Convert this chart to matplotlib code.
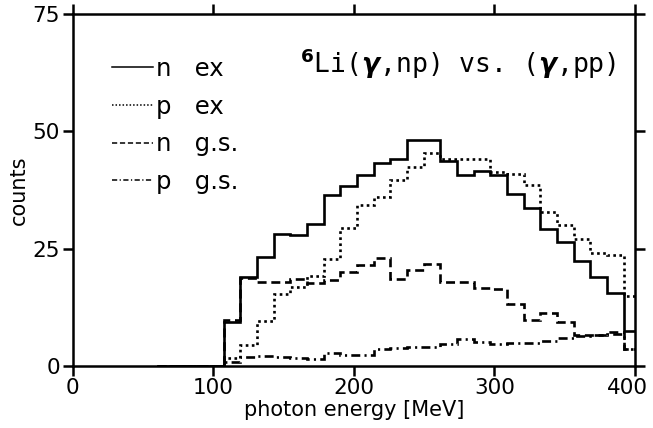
import numpy as np
import matplotlib.pyplot as plt
from matplotlib.lines import Line2D
from matplotlib.transforms import ScaledTranslation

plt.rcParams['font.family'] = ['DejaVu Sans']
plt.rcParams['mathtext.fontset'] = 'custom'
plt.rcParams['mathtext.rm'] = 'DejaVu Sans'
plt.rcParams['mathtext.it'] = 'DejaVu Sans:bold:italic'
plt.rcParams['mathtext.bf'] = 'DejaVu Sans:bold'

# binning of the photon energy (MeV)
bin_start = 60.0
bin_width = 11.86
n_bins = 29
edges = bin_start + bin_width * np.arange(n_bins + 1)

# counts per bin, first four bins are empty
n_ex = [0, 0, 0, 0,
        9.3, 19.0, 23.2, 28.2, 27.9, 30.3, 36.4, 38.4, 40.6, 43.3, 44.0, 48.2, 48.2,
        43.7, 40.6, 41.6, 40.8, 36.6, 33.7, 29.1, 26.4, 22.3, 19.0, 15.6, 7.5]
p_ex = [0, 0, 0, 0,
        1.8, 4.5, 9.5, 15.3, 16.8, 19.1, 22.9, 29.5, 34.2, 36.0, 39.6, 42.4, 45.4,
        44.2, 44.2, 44.0, 41.3, 40.9, 38.5, 32.8, 30.0, 27.1, 24.1, 23.6, 14.9]
n_gs = [0, 0, 0, 0,
        9.9, 18.7, 17.9, 17.9, 18.5, 17.6, 18.4, 20.0, 21.6, 23.1, 18.6, 20.4, 21.7,
        17.9, 17.9, 16.6, 16.5, 13.3, 9.7, 11.3, 9.3, 6.6, 6.6, 7.2, 3.7]
p_gs = [0, 0, 0, 0,
        0.8, 2.0, 2.1, 1.9, 1.8, 1.5, 2.7, 2.4, 2.3, 3.6, 3.8, 4.0, 4.0,
        4.6, 5.8, 5.1, 4.6, 5.0, 4.9, 5.3, 5.9, 6.3, 6.5, 6.9, 3.6]

labels = ['n   ex', 'p   ex', 'n   g.s.', 'p   g.s.']
styles = ['-', (0, (1.0, 1.3)), (0, (3.4, 1.8)), (0, (3.4, 1.6, 0.8, 1.6))]

fig = plt.figure(figsize=(6.53, 4.28), dpi=100)
ax = fig.add_axes([0.1113, 0.1449, 0.8611, 0.8224])

for vals, ls in zip([n_ex, p_ex, n_gs, p_gs], styles):
    ax.stairs(vals, edges, baseline=None, color='black', lw=1.9, linestyle=ls)

ax.set_xlim(0, 400)
ax.set_ylim(0, 75)
ax.set_xticks([0, 100, 200, 300, 400])
ax.set_yticks([0, 25, 50, 75])
ax.tick_params(direction='out', length=7, width=1.8, top=True, right=True,
               labelsize=15.5, pad=2)
for s in ax.spines.values():
    s.set_linewidth(1.8)

# pull the last x label in so it stays on the canvas
last = ax.get_xticklabels()[-1]
last.set_transform(last.get_transform() + ScaledTranslation(-8 / 100, 0, fig.dpi_scale_trans))

ax.set_xlabel('photon energy [MeV]', fontsize=15, labelpad=1)
ax.set_ylabel('counts', fontsize=15, labelpad=3)

# legend
handles = [Line2D([], [], color='black', lw=1.1, linestyle=ls) for ls in styles]
ax.legend(handles, labels, loc='upper left', bbox_to_anchor=(0.07, 0.878),
          frameon=False, fontsize=17.5, handlelength=1.7, handletextpad=0.1,
          labelspacing=0.56, borderpad=0, borderaxespad=0)

ax.text(0.404, 0.832, r'$^{\mathbf{6}}$Li($\gamma$,np) vs. ($\gamma$,pp)',
        transform=ax.transAxes, fontsize=19, family='DejaVu Sans Mono',
        ha='left', va='baseline')

fig.savefig('out.png', dpi=100)
